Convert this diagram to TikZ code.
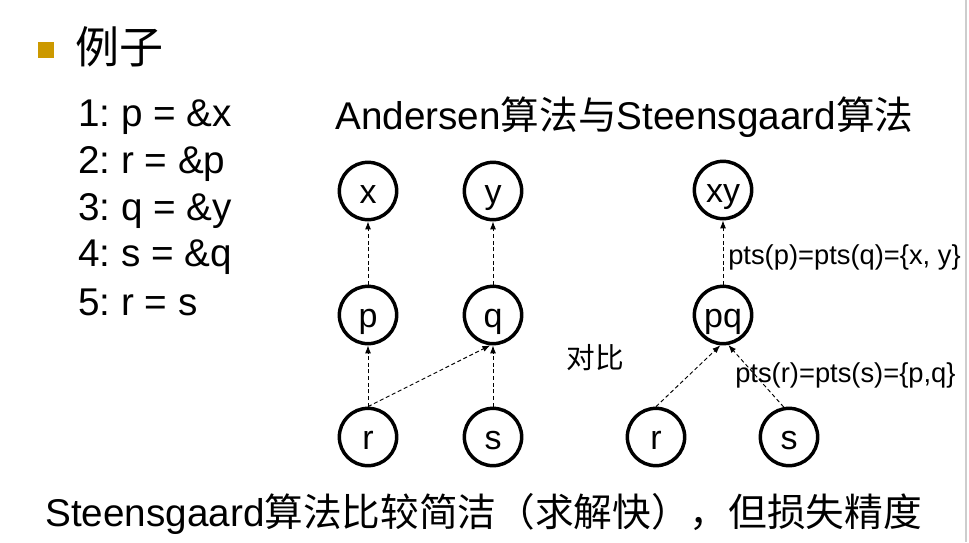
\documentclass[tikz,border=0pt]{standalone}
\usepackage{fontspec}
\setmainfont{Liberation Sans}
\newfontfamily\cjk{Noto Sans CJK SC}
\usetikzlibrary{arrows.meta}
\definecolor{bulletgold}{RGB}{204,153,0}
\definecolor{slideedge}{RGB}{205,205,205}
\frenchspacing

\begin{document}
\begin{tikzpicture}[x=0.75pt,y=-0.75pt,
  vtx/.style={circle,draw,line width=2.6pt,minimum size=43pt,inner sep=0pt,
    text height=18pt,text depth=0pt,font=\fontsize{25.5}{30}\selectfont},
  pto/.style={line width=0.7pt,dash pattern=on 3pt off 2pt,-{Latex[length=6pt,width=4.5pt]}},
  txt/.style={anchor=west,inner sep=0pt,font=\fontsize{29}{34}\selectfont},
  lbl/.style={anchor=west,inner sep=0pt,font=\fontsize{20.5}{24}\selectfont}]

\useasboundingbox (0,0) rectangle (969,542);
\fill[white] (0,0) rectangle (969,542);
\draw[slideedge,line width=1pt] (966,0) -- (966,542);

% ===== Title =====
\fill[bulletgold] (38,42) rectangle (54,58);
\node[txt,font=\fontsize{33}{38}\selectfont\cjk] (title) at (75,47) {例子};

% ===== Code =====
\node[txt] (l1) at (78,117) {1: p = \&x};
\node[txt] (l2) at (78,164) {2: r = \&p};
\node[txt] (l3) at (78,211) {3: q = \&y};
\node[txt] (l4) at (78,257) {4: s = \&q};
\node[txt] (l5) at (78,302) {5: r = s};

\node[txt] (head) at (335,117) {Andersen{\cjk 算法与}Steensgaard{\cjk 算法}};

% ===== Andersen =====
\node[vtx] (x) at (368,191) {x};
\node[vtx] (y) at (493,191) {y};
\node[vtx] (p) at (368,315) {p};
\node[vtx] (q) at (493,315) {q};
\node[vtx] (r) at (368,437) {r};
\node[vtx] (s) at (493,437) {s};

\draw[pto] (p.north) -- (x.south);
\draw[pto] (q.north) -- (y.south);
\draw[pto] (r.north) -- (p.south);
\draw[pto] (r.north) -- (q.265);
\draw[pto] (s.north) -- (q.south);

\node[lbl,anchor=center,font=\fontsize{21.5}{25}\selectfont\cjk] (cmp) at (595,358) {对比};

% ===== Steensgaard =====
\node[vtx] (xy) at (723,190) {xy};
\node[vtx] (pq) at (723,315) {pq};
\node[vtx] (r2) at (656,437) {r};
\node[vtx] (s2) at (789,437) {s};

\draw[pto] (pq.north) -- (xy.south);
\draw[pto] (r2.north) -- (pq.265);
\draw[pto] (s2.100) -- (pq.280);

\node[lbl] (ptsxy) at (728,257) {pts(p)=pts(q)=\{x, y\}};
\node[lbl] (ptspq) at (735,375) {pts(r)=pts(s)=\{p,q\}};

% ===== Conclusion =====
\node[txt] (sum) at (45,514) {Steensgaard{\cjk 算法比较简洁（求解快），但损失精度}};

\end{tikzpicture}
\end{document}
